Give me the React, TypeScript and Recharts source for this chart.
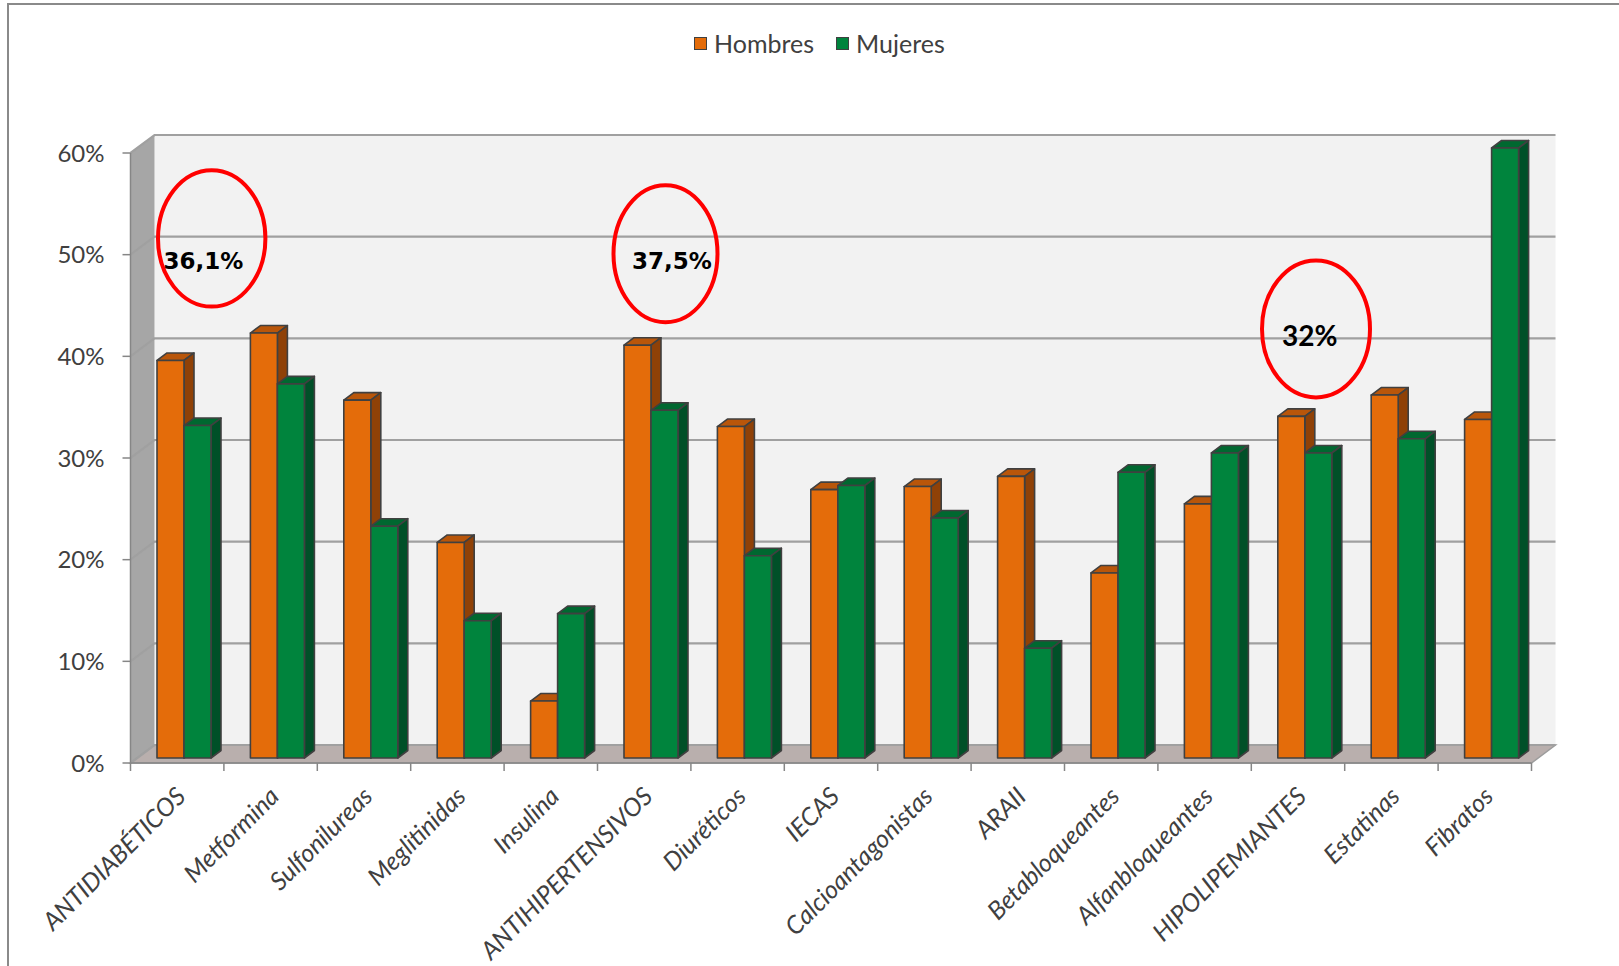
import React from 'react';
import { BarChart, Bar, XAxis, YAxis, Legend, ReferenceArea, ReferenceDot } from 'recharts';

const categories = [
  'ANTIDIABÉTICOS', 'Metformina', 'Sulfonilureas', 'Meglitinidas', 'Insulina',
  'ANTIHIPERTENSIVOS', 'Diuréticos', 'IECAS', 'Calcioantagonistas', 'ARAII',
  'Betabloqueantes', 'Alfanbloqueantes', 'HIPOLIPEMIANTES', 'Estatinas', 'Fibratos',
];
const hombres = [39.1, 41.8, 35.2, 21.2, 5.6, 40.6, 32.6, 26.4, 26.7, 27.7, 18.2, 25.0, 33.6, 35.7, 33.3];
const mujeres = [32.7, 36.8, 22.8, 13.5, 14.2, 34.2, 19.9, 26.8, 23.6, 10.8, 28.1, 30.0, 30.0, 31.4, 60.0];
const yTicks = [0, 10, 20, 30, 40, 50, 60];
const seriesNames = ['Hombres', 'Mujeres'];

const annotationCategories = ['ANTIDIABÉTICOS', 'ANTIHIPERTENSIVOS', 'HIPOLIPEMIANTES'];
const annotationValues = [51.6, 50.1, 42.7];
const annotationLabels = ['36,1%', '37,5%', '32%'];

const data = categories.map((c, i) => ({ name: c, h: hombres[i], m: mujeres[i] }));

const DEPTH_X = 24;
const DEPTH_Y = 18;
const BAR_SHIFT_X = 6.5;
const BAR_SHIFT_Y = -5;
const BAR_DX = 10;
const BAR_DY = 7.5;

const FONT = 'Lato, "Open Sans", sans-serif';

const Walls = (p: any) => {
  const { x, y, width, height } = p;
  const bx = x + DEPTH_X;
  const by = y - DEPTH_Y;
  const lines = yTicks.map((t) => y + height * (1 - t / 60));
  return (
    <g>
      <rect x={bx} y={by} width={width} height={height} fill="#f2f2f2" />
      <polygon
        points={`${x},${y} ${bx},${by} ${bx},${by + height} ${x},${y + height}`}
        fill="#a6a6a6"
      />
      <polygon
        points={`${x},${y + height} ${bx},${by + height} ${bx + width},${by + height} ${x + width},${y + height}`}
        fill="#b9afad"
        stroke="#9c9c9c"
        strokeWidth={1.5}
      />
      {lines.map((ly, i) => (
        <polyline
          key={i}
          points={`${x},${ly} ${bx},${ly - DEPTH_Y} ${bx + width},${ly - DEPTH_Y}`}
          stroke="#a0a0a0"
          strokeWidth={2.2}
          fill="none"
        />
      ))}
    </g>
  );
};

const makeBar = (front: string, top: string, side: string) => (p: any) => {
  const { x, y, width, height } = p;
  if (height == null || isNaN(height)) return <g />;
  const X = x + BAR_SHIFT_X;
  const Y = y + BAR_SHIFT_Y;
  const W = width;
  const H = height;
  return (
    <g stroke="#404040" strokeWidth={1.6} strokeLinejoin="round">
      <polygon
        points={`${X},${Y} ${X + BAR_DX},${Y - BAR_DY} ${X + W + BAR_DX},${Y - BAR_DY} ${X + W},${Y}`}
        fill={top}
      />
      <polygon
        points={`${X + W},${Y} ${X + W + BAR_DX},${Y - BAR_DY} ${X + W + BAR_DX},${Y + H - BAR_DY} ${X + W},${Y + H}`}
        fill={side}
      />
      <rect x={X} y={Y} width={W} height={H} fill={front} />
    </g>
  );
};

const CatTick = (p: any) => {
  const { x, y, payload } = p;
  const half = payload && payload.offset ? payload.offset : 46.7;
  const isLast = payload && payload.value === categories[categories.length - 1];
  const ax = x + 10;
  const ay = y + 35;
  return (
    <g>
      <line x1={x - half} y1={y} x2={x - half} y2={y + 8} stroke="#868686" strokeWidth={1.5} />
      {isLast && <line x1={x + half} y1={y} x2={x + half} y2={y + 8} stroke="#868686" strokeWidth={1.5} />}
      <text
        x={ax}
        y={ay}
        transform={`rotate(-45 ${ax} ${ay})`}
        textAnchor="end"
        fill="#404040"
        fontSize={25}
        fontStyle="italic"
        fontFamily={FONT}
      >
        {payload.value}
      </text>
    </g>
  );
};

const annotationStyle = [
  { dx: 34.5, tx: -8.3, ty: 22.7, rx: 53.7, ry: 68.2, font: '"DejaVu Sans", sans-serif', size: 23 },
  { dx: 21.3, tx: 6.5, ty: 7.5, rx: 52, ry: 68.5, font: '"DejaVu Sans", sans-serif', size: 23 },
  { dx: 18, tx: -6.3, ty: 7.7, rx: 54, ry: 68.5, font: FONT, size: 28 },
];

const makeAnnotation = (i: number) => (p: any) => {
  const { cx, cy } = p;
  const s = annotationStyle[i];
  const ex = cx + s.dx;
  return (
    <g>
      <ellipse cx={ex} cy={cy} rx={s.rx} ry={s.ry} fill="none" stroke="#ff0000" strokeWidth={4} />
      <text
        x={ex + s.tx}
        y={cy + s.ty}
        dy="0.35em"
        textAnchor="middle"
        fontFamily={s.font}
        fontWeight="bold"
        fontSize={s.size}
        fill="#000"
      >
        {annotationLabels[i]}
      </text>
    </g>
  );
};

const renderLegend = (props: any) => {
  const payload = props.payload || [];
  return (
    <div style={{ display: 'flex', alignItems: 'center', fontFamily: FONT, fontSize: 25, color: '#404040', lineHeight: '29px' }}>
      {payload.map((e: any, i: number) => (
        <div key={i} style={{ display: 'flex', alignItems: 'center', marginRight: 22 }}>
          <span
            style={{
              display: 'inline-block',
              width: 11,
              height: 11,
              background: e.color,
              border: '1.5px solid #404040',
              marginRight: 7,
            }}
          />
          <span>{e.value}</span>
        </div>
      ))}
    </div>
  );
};

export default function App() {
  return (
    <div style={{ position: 'absolute', left: 0, top: 0, width: 1619, height: 966, overflow: 'hidden', background: '#fff' }}>
      <div
        style={{
          position: 'absolute',
          left: 7,
          top: 3,
          width: 1700,
          height: 1100,
          border: '2px solid #8a8a8a',
          boxSizing: 'border-box',
        }}
      />
      <div style={{ position: 'absolute', left: 0, top: 0 }}>
        <BarChart
          width={1619}
          height={966}
          data={data}
          margin={{ top: 153, right: 87.5, bottom: 3, left: 30.5 }}
          barGap={0}
          barSize={27}
        >
          <ReferenceArea y1={0} y2={60} shape={Walls} ifOverflow="visible" />
          <XAxis
            dataKey="name"
            height={200}
            interval={0}
            tickSize={0}
            tickMargin={0}
            tickLine={false}
            axisLine={{ stroke: '#868686', strokeWidth: 1.5 }}
            tick={CatTick}
          />
          <YAxis
            width={100}
            domain={[0, 60]}
            ticks={yTicks}
            tickFormatter={(v: number) => `${v}%`}
            tickSize={8}
            tickMargin={18}
            axisLine={{ stroke: '#868686', strokeWidth: 1.5 }}
            tickLine={{ stroke: '#868686', strokeWidth: 1.5 }}
            tick={{ fill: '#404040', fontSize: 24, fontFamily: FONT }}
          />
          <Legend
            layout="horizontal"
            verticalAlign="middle"
            align="center"
            content={renderLegend}
            wrapperStyle={{ top: 29, left: 694, width: 400, height: 29 }}
          />
          <Bar
            dataKey="h"
            name={seriesNames[0]}
            fill="#e46c0a"
            isAnimationActive={false}
            shape={makeBar('#e46c0a', '#b9560a', '#8f4107')}
          />
          <Bar
            dataKey="m"
            name={seriesNames[1]}
            fill="#00843d"
            isAnimationActive={false}
            shape={makeBar('#00843d', '#006830', '#005028')}
          />
          {annotationCategories.map((c, i) => (
            <ReferenceDot key={i} x={c} y={annotationValues[i]} r={0} shape={makeAnnotation(i)} ifOverflow="visible" />
          ))}
        </BarChart>
      </div>
    </div>
  );
}
